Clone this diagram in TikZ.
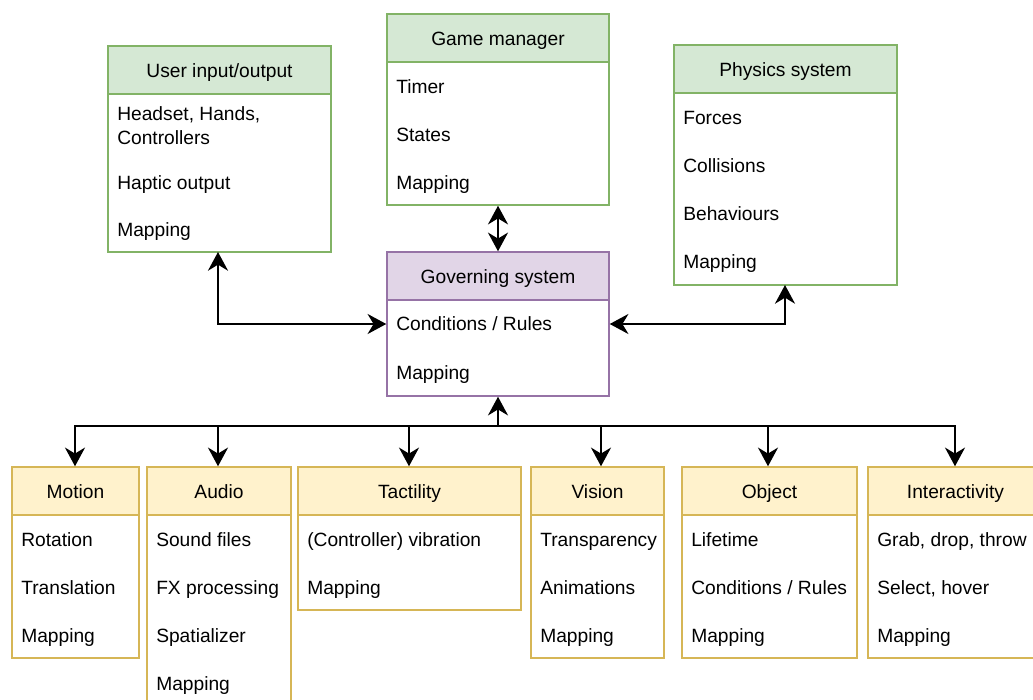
\documentclass[tikz,border=0pt]{standalone}
\usepackage{fontspec}
\setmainfont{Liberation Sans}
\usetikzlibrary{arrows.meta,fit}
\definecolor{gfill}{HTML}{D5E8D4}\definecolor{gline}{HTML}{82B366}
\definecolor{pfill}{HTML}{E1D5E7}\definecolor{pline}{HTML}{9673A6}
\definecolor{yfill}{HTML}{FFF2CC}\definecolor{yline}{HTML}{D6B656}
\tikzset{
  boxbody/.style={fit={#1}, inner sep=0pt, line width=1.1pt, fill=white},
  item/.style={anchor=base west, inner sep=0pt, font=\fontsize{14.4}{18}\selectfont, align=left},
  ttl/.style={anchor=base, inner sep=0pt, font=\fontsize{14.4}{18}\selectfont},
  conn/.style={line width=1.9pt, <->},
  conn1/.style={line width=1.9pt, ->},
}
% #1 name, #2 x1, #3 y1, #4 x2, #5 y2, #6 colour prefix, #7 title
\newcommand\umlbox[7]{%
  \node[boxbody={(#2,#3) (#4,#5)}, draw=#6line] (#1) {};
  \node[boxbody={(#2,#3) (#4,#3+48)}, draw=#6line, fill=#6fill] (#1-h) {};
  \path (#1-h.center) ++(0,7) node[ttl] (#1-t) {#7};
}
\begin{document}
\begin{tikzpicture}[x=0.75pt, y=-0.75pt, >={Stealth[length=14pt, width=15pt, inset=4.5pt]}]
\useasboundingbox (0,0) rectangle (1033,700);
\fill[white] (0,0) rectangle (1033,700);

% top boxes
\umlbox{user}{108}{46}{331}{252}{g}{User input/output}
\node[item] (user-1) at (117,144) {Headset, Hands,\\Controllers};
\node[item] (user-2) at (117,189) {Haptic output};
\node[item] (user-3) at (117,236) {Mapping};

\umlbox{game}{387}{14}{609}{205}{g}{Game manager}
\node[item] (game-1) at (396,93) {Timer};
\node[item] (game-2) at (396,141) {States};
\node[item] (game-3) at (396,189) {Mapping};

\umlbox{phys}{674}{45}{897}{285}{g}{Physics system}
\node[item] (phys-1) at (683,124) {Forces};
\node[item] (phys-2) at (683,172) {Collisions};
\node[item] (phys-3) at (683,220) {Behaviours};
\node[item] (phys-4) at (683,268) {Mapping};

\umlbox{gov}{387}{252}{609}{396}{p}{Governing system}
\node[item] (gov-1) at (396,330) {Conditions / Rules};
\node[item] (gov-2) at (396,379) {Mapping};

% bottom boxes
\umlbox{motion}{12}{467}{139}{658}{y}{Motion}
\node[item] (motion-1) at (21,546) {Rotation};
\node[item] (motion-2) at (21,594) {Translation};
\node[item] (motion-3) at (21,642) {Mapping};

\umlbox{audio}{147}{467}{291}{710}{y}{Audio}
\node[item] (audio-1) at (156,546) {Sound files};
\node[item] (audio-2) at (156,594) {FX processing};
\node[item] (audio-3) at (156,642) {Spatializer};
\node[item] (audio-4) at (156,690) {Mapping};

\umlbox{tact}{298}{467}{521}{610}{y}{Tactility}
\node[item] (tact-1) at (307,546) {(Controller) vibration};
\node[item] (tact-2) at (307,594) {Mapping};

\umlbox{vision}{531}{467}{664}{658}{y}{Vision}
\node[item] (vision-1) at (540,546) {Transparency};
\node[item] (vision-2) at (540,594) {Animations};
\node[item] (vision-3) at (540,642) {Mapping};

\umlbox{object}{682}{467}{857}{658}{y}{Object}
\node[item] (object-1) at (691,546) {Lifetime};
\node[item] (object-2) at (691,594) {Conditions / Rules};
\node[item] (object-3) at (691,642) {Mapping};

\umlbox{inter}{868}{467}{1043}{658}{y}{Interactivity}
\node[item] (inter-1) at (877,546) {Grab, drop, throw};
\node[item] (inter-2) at (877,594) {Select, hover};
\node[item] (inter-3) at (877,642) {Mapping};

% connectors
\coordinate (ul) at (218,252);
\coordinate (pl) at (785,285);
\draw[conn] (game.south) -- (gov.north);
\draw[conn] (ul) |- (gov.west);
\draw[conn] (pl) |- (gov.east);

\coordinate (bus) at (498,426);
\coordinate (dm) at (75,426);
\coordinate (da) at (218,426);
\coordinate (dt) at (409,426);
\coordinate (dv) at (601,426);
\coordinate (do) at (768,426);
\coordinate (di) at (955,426);
\draw[conn1] (bus) -- (gov.south);
\draw[line width=1.9pt, line cap=rect] (dm) -- (di);
\draw[conn1] (dm) -- (dm |- motion.north);
\draw[conn1] (da) -- (da |- audio.north);
\draw[conn1] (dt) -- (dt |- tact.north);
\draw[conn1] (dv) -- (dv |- vision.north);
\draw[conn1] (do) -- (do |- object.north);
\draw[conn1] (di) -- (di |- inter.north);
\end{tikzpicture}
\end{document}
